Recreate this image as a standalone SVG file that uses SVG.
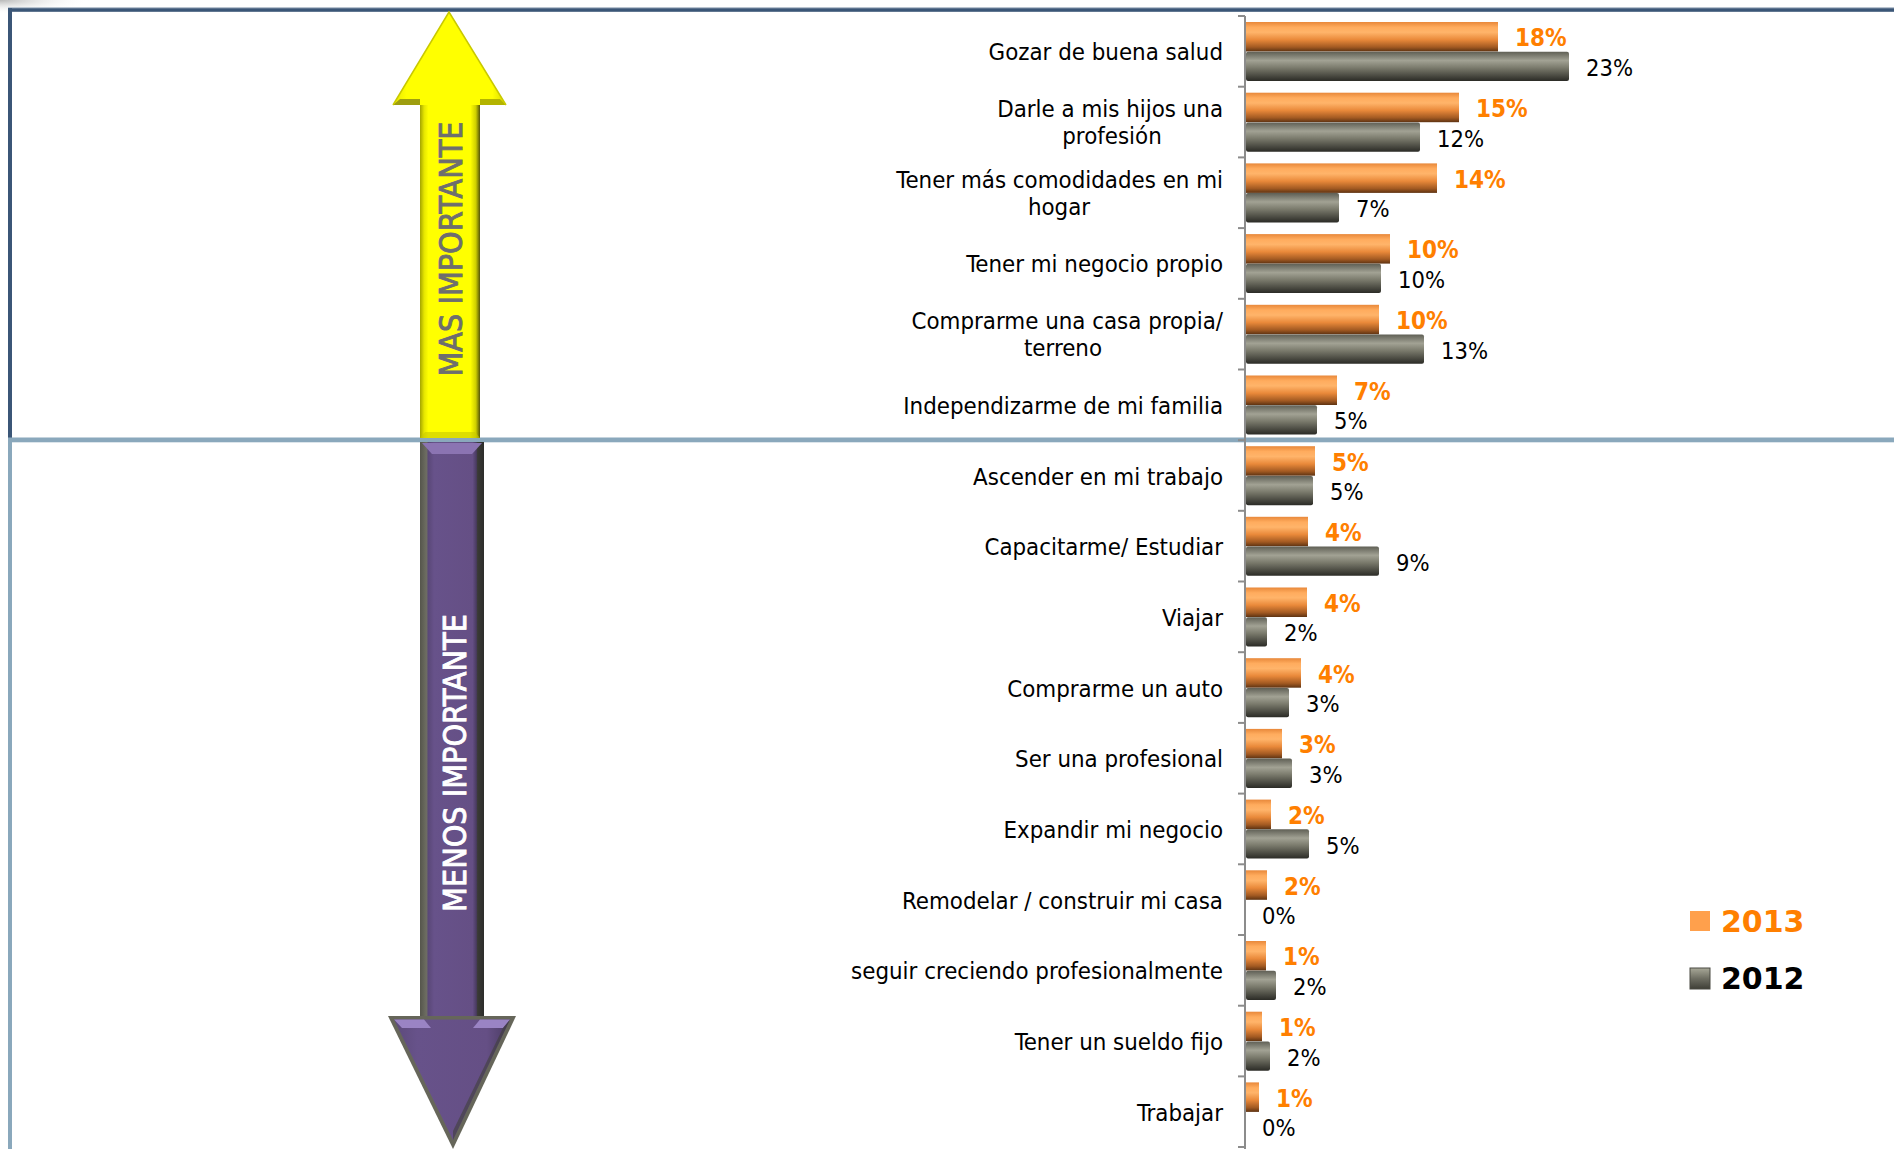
<svg xmlns="http://www.w3.org/2000/svg" width="1894" height="1149" viewBox="0 0 1894 1149">
<defs>
<style>
.cat{font-family:"DejaVu Sans Condensed","DejaVu Sans",sans-serif;font-stretch:condensed;font-size:23.8px;fill:#000;text-anchor:end}
.cat2{font-family:"DejaVu Sans Condensed","DejaVu Sans",sans-serif;font-stretch:condensed;font-size:23.8px;fill:#000;text-anchor:middle}
.vo{font-family:"DejaVu Sans Condensed","DejaVu Sans",sans-serif;font-stretch:condensed;font-size:24px;font-weight:bold;fill:#FF7F00}
.vg{font-family:"DejaVu Sans Condensed","DejaVu Sans",sans-serif;font-stretch:condensed;font-size:23.5px;fill:#000}
.big{font-family:"DejaVu Sans Condensed","DejaVu Sans",sans-serif;font-stretch:condensed;font-size:32px;text-anchor:middle;stroke-width:0.9}
.ob{fill:url(#og)}
.gb{fill:url(#gg)}
.tick{stroke:#8C8C8C;stroke-width:2}
</style>
<linearGradient id="og" x1="0" y1="0" x2="0" y2="1">
<stop offset="0" stop-color="#E8883A"/>
<stop offset="0.18" stop-color="#FFAC5E"/>
<stop offset="0.35" stop-color="#FFB46A"/>
<stop offset="0.6" stop-color="#E9893A"/>
<stop offset="0.85" stop-color="#A35A22"/>
<stop offset="1" stop-color="#5E3312"/>
</linearGradient>
<linearGradient id="gg" x1="0" y1="0" x2="0" y2="1">
<stop offset="0" stop-color="#5F5F55"/>
<stop offset="0.3" stop-color="#A2A294"/>
<stop offset="0.55" stop-color="#7A7A6C"/>
<stop offset="0.85" stop-color="#45453D"/>
<stop offset="1" stop-color="#2B2B26"/>
</linearGradient>
<linearGradient id="ys" gradientUnits="userSpaceOnUse" x1="420" y1="0" x2="480" y2="0">
<stop offset="0" stop-color="#A4A400"/>
<stop offset="0.07" stop-color="#E6E600"/>
<stop offset="0.14" stop-color="#FFFF00"/>
<stop offset="0.84" stop-color="#FFFF00"/>
<stop offset="0.93" stop-color="#CFCF00"/>
<stop offset="1" stop-color="#55550A"/>
</linearGradient>
<linearGradient id="yh" gradientUnits="userSpaceOnUse" x1="393" y1="0" x2="506" y2="0">
<stop offset="0" stop-color="#E6E600"/>
<stop offset="0.12" stop-color="#FFFF00"/>
<stop offset="0.88" stop-color="#FFFF00"/>
<stop offset="1" stop-color="#D8D800"/>
</linearGradient>
<linearGradient id="ps" gradientUnits="userSpaceOnUse" x1="420" y1="0" x2="484" y2="0">
<stop offset="0" stop-color="#55554C"/>
<stop offset="0.1" stop-color="#6E6E62"/>
<stop offset="0.13" stop-color="#5A4878"/>
<stop offset="0.22" stop-color="#67528A"/>
<stop offset="0.82" stop-color="#654F85"/>
<stop offset="0.88" stop-color="#4A3B62"/>
<stop offset="0.9" stop-color="#3A3A36"/>
<stop offset="1" stop-color="#2C2C2A"/>
</linearGradient>
<linearGradient id="ph" gradientUnits="userSpaceOnUse" x1="394" y1="0" x2="510" y2="0">
<stop offset="0" stop-color="#5C4A7A"/>
<stop offset="0.2" stop-color="#67528A"/>
<stop offset="0.8" stop-color="#654F85"/>
<stop offset="1" stop-color="#4A3B62"/>
</linearGradient>
<linearGradient id="legg" x1="0" y1="0" x2="0" y2="1">
<stop offset="0" stop-color="#A8A898"/>
<stop offset="0.5" stop-color="#6E6E62"/>
<stop offset="1" stop-color="#3E3E36"/>
</linearGradient>
<radialGradient id="corner" cx="0" cy="0" r="1" gradientUnits="userSpaceOnUse" gradientTransform="translate(0 0) scale(90 14)">
<stop offset="0" stop-color="#B8B8B8"/>
<stop offset="1" stop-color="#FFFFFF" stop-opacity="0"/>
</radialGradient>
</defs>
<rect x="0" y="0" width="1894" height="1149" fill="#FFFFFF"/>
<rect x="0" y="0" width="90" height="14" fill="url(#corner)"/>

<g id="frame">
<rect x="8" y="7" width="1886" height="1.2" fill="#B9C4D0"/>
<rect x="8" y="8.2" width="1886" height="3.6" fill="#3B5677"/>
<rect x="8" y="8.2" width="4" height="430" fill="#3B5677"/>
<rect x="8" y="438" width="4" height="711" fill="#8AA8BC"/>
<rect x="8" y="437.5" width="1886" height="4.8" fill="#8AA8BC"/>
</g>

<g id="arrow-mas">
<rect x="420" y="103" width="60" height="335" fill="url(#ys)"/>
<polygon points="449,12 393,105 506,105" fill="url(#yh)"/>
<polygon points="393,105 420,105 420,99 400,99" fill="#9E9E10"/>
<polygon points="480,99 500,99 506,105 480,105" fill="#B4B400"/>
<polyline points="393,105 449,12 506,105" fill="none" stroke="#C9C900" stroke-width="1.5"/>
<polygon points="420,438 480,438 475,432 425,432" fill="#C8C800" opacity="0.6"/>
<text class="big" x="462" y="249" transform="rotate(-90 462 249)" fill="#6E6E6E" stroke="#6E6E6E">MAS IMPORTANTE</text>
</g>

<g id="arrow-menos">
<rect x="420" y="442" width="64" height="576" fill="url(#ps)"/>
<polygon points="422,443 482,443 472,454 432,454" fill="#8B74B2"/>
<polygon points="388,1016 516,1016 453,1149" fill="#66665A"/>
<polygon points="394,1019.5 510,1019.5 453,1140" fill="url(#ph)"/>
<polygon points="394,1019.5 424,1019.5 431,1028 402,1028" fill="#9A84C4"/>
<polygon points="480,1019.5 510,1019.5 503,1028 473,1028" fill="#9A84C4"/>
<polygon points="510,1019.5 453,1140 453,1131 503,1028" fill="#3F3F3A" opacity="0.6"/>
<text class="big" x="466" y="763" transform="rotate(-90 466 763)" fill="#FFFFFF" stroke="#FFFFFF">MENOS IMPORTANTE</text>
</g>

<g id="axis">
<line x1="1245" y1="16" x2="1245" y2="1149" stroke="#8C8C8C" stroke-width="2"/>
<line class="tick" x1="1238" y1="16" x2="1245" y2="16"/>
<line class="tick" x1="1238" y1="86.7" x2="1245" y2="86.7"/>
<line class="tick" x1="1238" y1="157.4" x2="1245" y2="157.4"/>
<line class="tick" x1="1238" y1="228.1" x2="1245" y2="228.1"/>
<line class="tick" x1="1238" y1="298.8" x2="1245" y2="298.8"/>
<line class="tick" x1="1238" y1="369.5" x2="1245" y2="369.5"/>
<line class="tick" x1="1238" y1="440.2" x2="1245" y2="440.2"/>
<line class="tick" x1="1238" y1="510.8" x2="1245" y2="510.8"/>
<line class="tick" x1="1238" y1="581.5" x2="1245" y2="581.5"/>
<line class="tick" x1="1238" y1="652.2" x2="1245" y2="652.2"/>
<line class="tick" x1="1238" y1="722.9" x2="1245" y2="722.9"/>
<line class="tick" x1="1238" y1="793.6" x2="1245" y2="793.6"/>
<line class="tick" x1="1238" y1="864.3" x2="1245" y2="864.3"/>
<line class="tick" x1="1238" y1="935.0" x2="1245" y2="935.0"/>
<line class="tick" x1="1238" y1="1005.7" x2="1245" y2="1005.7"/>
<line class="tick" x1="1238" y1="1076.4" x2="1245" y2="1076.4"/>
<line class="tick" x1="1238" y1="1147" x2="1245" y2="1147"/>
</g>

<g id="connectors"></g>

<g id="row1">
<text class="cat" x="1223" y="60.3">Gozar de buena salud</text>
<rect class="ob" x="1246" y="22.0" width="252" height="29.5"/>
<rect class="gb" x="1246" y="51.7" width="323" height="29.3" rx="2"/>
<text class="vo" x="1515" y="46.3">18%</text>
<text class="vg" x="1586" y="75.9">23%</text>
</g>
<g id="row2">
<text class="cat" x="1223" y="117">Darle a mis hijos una</text>
<text class="cat2" x="1112" y="144">profesión</text>
<rect class="ob" x="1246" y="92.7" width="213" height="29.5"/>
<rect class="gb" x="1246" y="122.4" width="174" height="29.3" rx="2"/>
<text class="vo" x="1476" y="117.0">15%</text>
<text class="vg" x="1437" y="146.6">12%</text>
</g>
<g id="row3">
<text class="cat" x="1223" y="187.7">Tener más comodidades en mi</text>
<text class="cat2" x="1059" y="214.7">hogar</text>
<rect class="ob" x="1246" y="163.4" width="191" height="29.5"/>
<rect class="gb" x="1246" y="193.1" width="93" height="29.3" rx="2"/>
<text class="vo" x="1454" y="187.7">14%</text>
<text class="vg" x="1356" y="217.3">7%</text>
</g>
<g id="row4">
<text class="cat" x="1223" y="272.4">Tener mi negocio propio</text>
<rect class="ob" x="1246" y="234.1" width="144" height="29.5"/>
<rect class="gb" x="1246" y="263.8" width="135" height="29.3" rx="2"/>
<text class="vo" x="1407" y="258.4">10%</text>
<text class="vg" x="1398" y="288.0">10%</text>
</g>
<g id="row5">
<text class="cat" x="1223" y="329.1">Comprarme una casa propia/</text>
<text class="cat2" x="1063" y="356.1">terreno</text>
<rect class="ob" x="1246" y="304.8" width="133" height="29.5"/>
<rect class="gb" x="1246" y="334.5" width="178" height="29.3" rx="2"/>
<text class="vo" x="1396" y="329.1">10%</text>
<text class="vg" x="1441" y="358.7">13%</text>
</g>
<g id="row6">
<text class="cat" x="1223" y="413.8">Independizarme de mi familia</text>
<rect class="ob" x="1246" y="375.5" width="91" height="29.5"/>
<rect class="gb" x="1246" y="405.2" width="71" height="29.3" rx="2"/>
<text class="vo" x="1354" y="399.8">7%</text>
<text class="vg" x="1334" y="429.4">5%</text>
</g>
<g id="row7">
<text class="cat" x="1223" y="484.5">Ascender en mi trabajo</text>
<rect class="ob" x="1246" y="446.2" width="69" height="29.5"/>
<rect class="gb" x="1246" y="475.9" width="67" height="29.3" rx="2"/>
<text class="vo" x="1332" y="470.5">5%</text>
<text class="vg" x="1330" y="500.1">5%</text>
</g>
<g id="row8">
<text class="cat" x="1223" y="555.2">Capacitarme/ Estudiar</text>
<rect class="ob" x="1246" y="516.8" width="62" height="29.5"/>
<rect class="gb" x="1246" y="546.5" width="133" height="29.3" rx="2"/>
<text class="vo" x="1325" y="541.1">4%</text>
<text class="vg" x="1396" y="570.7">9%</text>
</g>
<g id="row9">
<text class="cat" x="1223" y="625.9">Viajar</text>
<rect class="ob" x="1246" y="587.5" width="61" height="29.5"/>
<rect class="gb" x="1246" y="617.2" width="21" height="29.3" rx="2"/>
<text class="vo" x="1324" y="611.8">4%</text>
<text class="vg" x="1284" y="641.4">2%</text>
</g>
<g id="row10">
<text class="cat" x="1223" y="696.6">Comprarme un auto</text>
<rect class="ob" x="1246" y="658.2" width="55" height="29.5"/>
<rect class="gb" x="1246" y="687.9" width="43" height="29.3" rx="2"/>
<text class="vo" x="1318" y="682.5">4%</text>
<text class="vg" x="1306" y="712.1">3%</text>
</g>
<g id="row11">
<text class="cat" x="1223" y="767.3">Ser una profesional</text>
<rect class="ob" x="1246" y="728.9" width="36" height="29.5"/>
<rect class="gb" x="1246" y="758.6" width="46" height="29.3" rx="2"/>
<text class="vo" x="1299" y="753.2">3%</text>
<text class="vg" x="1309" y="782.8">3%</text>
</g>
<g id="row12">
<text class="cat" x="1223" y="838">Expandir mi negocio</text>
<rect class="ob" x="1246" y="799.6" width="25" height="29.5"/>
<rect class="gb" x="1246" y="829.3" width="63" height="29.3" rx="2"/>
<text class="vo" x="1288" y="823.9">2%</text>
<text class="vg" x="1326" y="853.5">5%</text>
</g>
<g id="row13">
<text class="cat" x="1223" y="908.7">Remodelar / construir mi casa</text>
<rect class="ob" x="1246" y="870.3" width="21" height="29.5"/>
<text class="vo" x="1284" y="894.6">2%</text>
<text class="vg" x="1262" y="924.2">0%</text>
</g>
<g id="row14">
<text class="cat" x="1223" y="979.4">seguir creciendo profesionalmente</text>
<rect class="ob" x="1246" y="941.0" width="20" height="29.5"/>
<rect class="gb" x="1246" y="970.7" width="30" height="29.3" rx="2"/>
<text class="vo" x="1283" y="965.3">1%</text>
<text class="vg" x="1293" y="994.9">2%</text>
</g>
<g id="row15">
<text class="cat" x="1223" y="1050.1">Tener un sueldo fijo</text>
<rect class="ob" x="1246" y="1011.7" width="16" height="29.5"/>
<rect class="gb" x="1246" y="1041.4" width="24" height="29.3" rx="2"/>
<text class="vo" x="1279" y="1036.0">1%</text>
<text class="vg" x="1287" y="1065.6">2%</text>
</g>
<g id="row16">
<text class="cat" x="1223" y="1120.8">Trabajar</text>
<rect class="ob" x="1246" y="1082.4" width="13" height="29.5"/>
<text class="vo" x="1276" y="1106.7">1%</text>
<text class="vg" x="1262" y="1136.3">0%</text>
</g>

<g id="legend">
<rect x="1690" y="911" width="20" height="20" fill="#FFA04C"/>
<text x="1721" y="932" font-family="'DejaVu Sans',sans-serif" font-size="30" font-weight="bold" fill="#FF7F00">2013</text>
<rect x="1690" y="968" width="20" height="21" fill="url(#legg)" stroke="#4A4A42" stroke-width="1"/>
<text x="1721" y="989" font-family="'DejaVu Sans',sans-serif" font-size="30" font-weight="bold" fill="#000">2012</text>
</g>
</svg>
